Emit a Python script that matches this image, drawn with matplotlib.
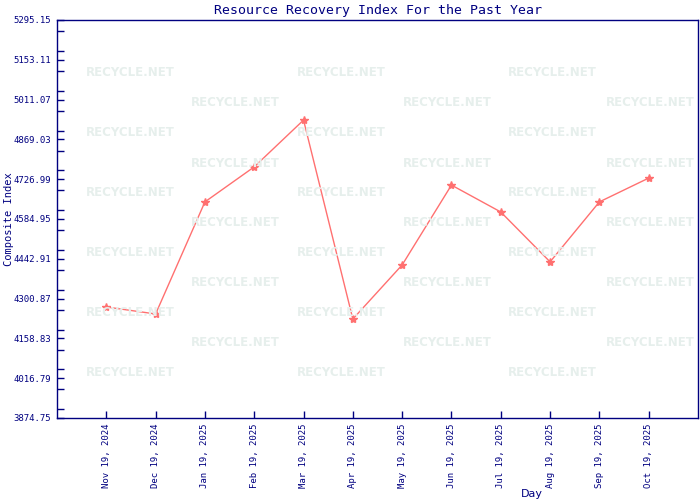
import matplotlib
matplotlib.use('Agg')
import matplotlib.pyplot as plt
from matplotlib.ticker import MultipleLocator

# datos del grafico
dias = ['Nov 19, 2024', 'Dec 19, 2024', 'Jan 19, 2025', 'Feb 19, 2025', 'Mar 19, 2025',
        'Apr 19, 2025', 'May 19, 2025', 'Jun 19, 2025', 'Jul 19, 2025', 'Aug 19, 2025',
        'Sep 19, 2025', 'Oct 19, 2025']
valores = [4271, 4246, 4646, 4771, 4938, 4228, 4421, 4706, 4610, 4432, 4646, 4731]
y_ticks = [3874.75, 4016.79, 4158.83, 4300.87, 4442.91, 4584.95, 4726.99,
           4869.03, 5011.07, 5153.11, 5295.15]

azul = '#000080'
mono = 'DejaVu Sans Mono'

fig = plt.figure(figsize=(7, 5), dpi=100)
ax = fig.add_axes([57 / 700, 1 - 418 / 500, 641 / 700, 398 / 500])

# marca de agua
for fila in range(11):
    y = 73 + fila * 30
    xs = [130, 341, 552] if fila % 2 == 0 else [235, 447, 650]
    for x in xs:
        fig.text(x / 700, 1 - y / 500, 'RECYCLE.NET', color='#e6efec', fontsize=8.5,
                 fontweight='bold', family='DejaVu Sans', ha='center', va='center', zorder=0)

x = list(range(len(dias)))
ax.plot(x, valores, color='#ff7070', linewidth=1, marker='*', markersize=6,
        markeredgewidth=1, zorder=3)
ax.set_facecolor('none')

ax.set_xlim(-1, len(dias))
ax.set_ylim(y_ticks[0], y_ticks[-1])
ax.set_xticks(x)
ax.set_xticklabels(dias, rotation=90, fontsize=6.5, family=mono, color=azul)
ax.set_yticks(y_ticks)
ax.set_yticklabels(['%.2f' % v for v in y_ticks], fontsize=6.5, family=mono, color=azul)
ax.yaxis.set_minor_locator(MultipleLocator((y_ticks[1] - y_ticks[0]) / 2))

for s in ax.spines.values():
    s.set_color(azul)
    s.set_linewidth(1)
ax.tick_params(axis='both', which='both', colors=azul, direction='in')
ax.tick_params(axis='x', length=5, width=1, pad=4)
ax.tick_params(axis='y', which='major', length=5, width=1, pad=4)
ax.tick_params(axis='y', which='minor', length=5, width=1)

ax.set_title('Resource Recovery Index For the Past Year', fontsize=9.5, family=mono,
             color=azul, pad=4)
ax.set_ylabel('Composite Index', fontsize=7.5, family=mono, color=azul)
ax.yaxis.set_label_coords(-43 / 641, 0.5)
fig.text(532 / 700, 1 - 494 / 500, 'Day', fontsize=8, family='DejaVu Sans', color=azul,
         ha='center', va='center')

plt.savefig('out.png', dpi=100)
